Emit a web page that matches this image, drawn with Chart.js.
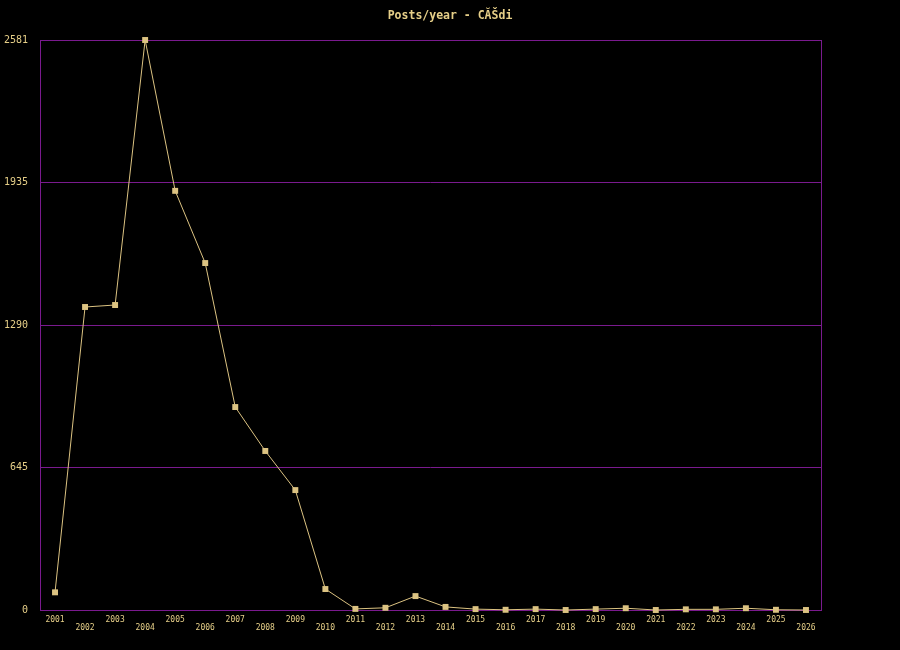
<!DOCTYPE html>
<html>
<head>
<meta charset="utf-8">
<script src="https://cdn.jsdelivr.net/npm/chart.js@4/dist/chart.umd.min.js"></script>
<style>
  html, body { margin: 0; padding: 0; background: #000; }
  #wrap { width: 900px; height: 650px; }
</style>
</head>
<body>
<div id="wrap"><canvas id="chart" width="900" height="650"></canvas></div>
<script>
// chart data
const years = ['2001', '2002', '2003', '2004', '2005', '2006', '2007', '2008', '2009',
  '2010', '2011', '2012', '2013', '2014', '2015', '2016', '2017', '2018', '2019',
  '2020', '2021', '2022', '2023', '2024', '2025', '2026'];
const posts = [80, 1372, 1381, 2581, 1898, 1571, 919, 720, 543,
  95, 5, 10, 63, 14, 4, 1, 4, 0, 4,
  8, 0, 3, 3, 8, 1, 0];
const yTicks = [0, 645, 1290, 1935, 2581];
const title = 'Posts/year - CĂŠdi';

const purple = '#7a1a8e';
const khaki = '#dcc382';
const textColor = '#e6cf88';

// staggered year labels: every second one sits one line lower
const xLabels = years.map((y, i) => (i % 2 === 0 ? [y] : ['', y]));

// frame round the plot area and the title on top
const framePlugin = {
  id: 'frame',
  beforeDatasetsDraw(chart) {
    const { ctx, chartArea: a } = chart;
    ctx.save();
    ctx.strokeStyle = purple;
    ctx.lineWidth = 1;
    ctx.strokeRect(Math.round(a.left) + 0.5, Math.round(a.top) + 0.5,
      Math.round(a.right - a.left), Math.round(a.bottom - a.top));
    ctx.restore();
  },
  afterDraw(chart) {
    const { ctx } = chart;
    ctx.save();
    ctx.fillStyle = textColor;
    ctx.font = 'bold 11.5px "DejaVu Sans Mono", monospace';
    ctx.textAlign = 'center';
    ctx.textBaseline = 'middle';
    ctx.fillText(title, 450, 16);
    ctx.restore();
  }
};

new Chart(document.getElementById('chart'), {
  type: 'line',
  data: {
    labels: xLabels,
    datasets: [{
      label: 'Posts',
      data: posts,
      borderColor: khaki,
      borderWidth: 1,
      backgroundColor: khaki,
      pointStyle: 'rect',
      pointRadius: 4.2,
      pointBorderWidth: 0,
      tension: 0,
      clip: false
    }]
  },
  options: {
    responsive: false,
    animation: false,
    layout: { padding: { top: 40, right: 79, left: 0, bottom: 0 } },
    plugins: {
      legend: { display: false },
      title: { display: false },
      tooltip: { enabled: false }
    },
    scales: {
      x: {
        offset: true,
        grid: { display: false, drawTicks: false, tickLength: 0 },
        border: { display: false },
        ticks: {
          autoSkip: false,
          maxRotation: 0,
          minRotation: 0,
          padding: 6,
          color: textColor,
          font: { family: '"DejaVu Sans Mono", monospace', size: 8, lineHeight: '8px' }
        },
        afterFit(scale) { scale.height = 40; }
      },
      y: {
        min: 0,
        max: 2581,
        grid: { color: purple, lineWidth: 1, drawTicks: false, tickLength: 0 },
        border: { display: false },
        afterBuildTicks(scale) { scale.ticks = yTicks.map(v => ({ value: v })); },
        ticks: {
          padding: 12,
          color: textColor,
          font: { family: '"DejaVu Sans Mono", monospace', size: 10 },
          callback: (v) => String(v)
        },
        afterFit(scale) { scale.width = 40; }
      }
    }
  },
  plugins: [framePlugin]
});
</script>
</body>
</html>
